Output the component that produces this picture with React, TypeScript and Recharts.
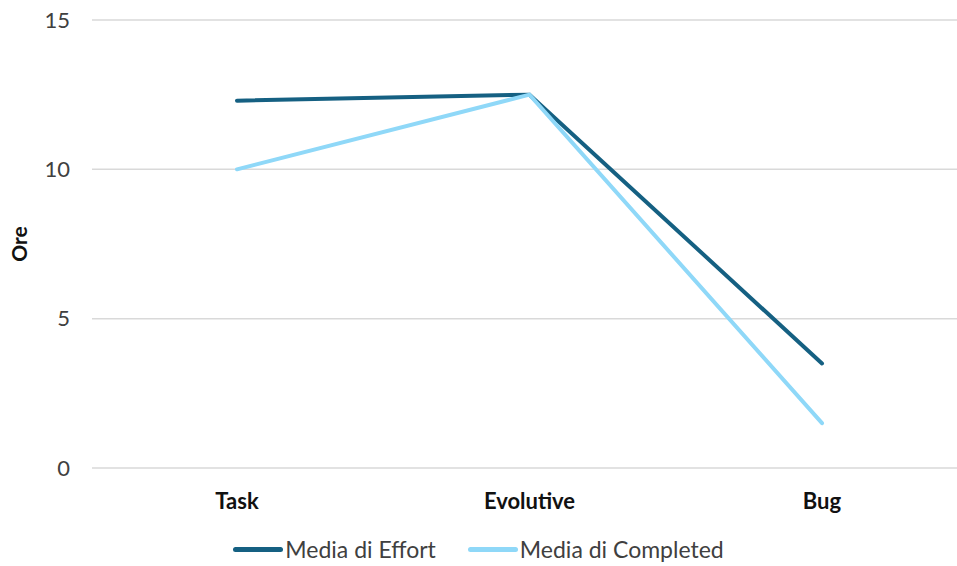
import { CartesianGrid, Legend, Line, LineChart, XAxis, YAxis } from "recharts";

const categories = ["Task", "Evolutive", "Bug"];
const effortAvg = [12.3, 12.5, 3.5];
const completedAvg = [10, 12.5, 1.5];
const yTicks = [0, 5, 10, 15];

const EFFORT = "#156082";
const COMPLETED = "#8fd8f8";
const FONT = "Lato, 'Open Sans', sans-serif";

const data = categories.map((name, i) => ({
  name,
  effort: effortAvg[i],
  completed: completedAvg[i],
}));

const legendItems = [
  { label: "Media di Effort", color: EFFORT },
  { label: "Media di Completed", color: COMPLETED },
];

function LegendRow() {
  return (
    <div
      style={{
        display: "flex",
        justifyContent: "center",
        alignItems: "center",
        height: 30,
        gap: 32,
        fontFamily: FONT,
        fontSize: 23,
        color: "#404040",
      }}
    >
      {legendItems.map((it) => (
        <div key={it.label} style={{ display: "flex", alignItems: "center" }}>
          <span
            style={{
              display: "inline-block",
              width: 50,
              height: 5,
              borderRadius: 2.5,
              background: it.color,
              marginRight: 2,
            }}
          />
          {it.label}
        </div>
      ))}
    </div>
  );
}

export default function App() {
  return (
    <div
      style={{
        position: "absolute",
        left: 0,
        top: 0,
        width: 957,
        height: 566,
        overflow: "hidden",
        background: "#fff",
      }}
    >
      <LineChart
        width={975}
        height={566}
        data={data}
        margin={{ top: 20, right: 7, left: 0, bottom: 0 }}
      >
        <CartesianGrid vertical={false} stroke="#d9d9d9" strokeWidth={1.5} />
        <XAxis
          dataKey="name"
          axisLine={false}
          tickLine={false}
          height={68}
          tickMargin={19}
          padding={{ left: 145, right: 146 }}
          tick={{ fontSize: 22, fontWeight: 700, fill: "#111", fontFamily: FONT }}
        />
        <YAxis
          domain={[0, 15]}
          ticks={yTicks}
          axisLine={false}
          tickLine={false}
          width={92}
          tickMargin={16}
          tick={{ fontSize: 22, fill: "#404040", fontFamily: FONT }}
          label={{
            value: "Ore",
            angle: -90,
            position: "insideLeft",
            offset: 20,
            style: { fontSize: 21, fontWeight: 700, fill: "#111", fontFamily: FONT, textAnchor: "middle" },
          }}
        />
        <Legend
          verticalAlign="bottom"
          height={30}
          content={() => <LegendRow />}
          wrapperStyle={{ left: 0, width: 957, bottom: 2 }}
        />
        <Line
          dataKey="effort"
          name="Media di Effort"
          stroke={EFFORT}
          strokeWidth={4}
          strokeLinecap="round"
          dot={false}
          activeDot={false}
          isAnimationActive={false}
        />
        <Line
          dataKey="completed"
          name="Media di Completed"
          stroke={COMPLETED}
          strokeWidth={4}
          strokeLinecap="round"
          dot={false}
          activeDot={false}
          isAnimationActive={false}
        />
      </LineChart>
    </div>
  );
}
